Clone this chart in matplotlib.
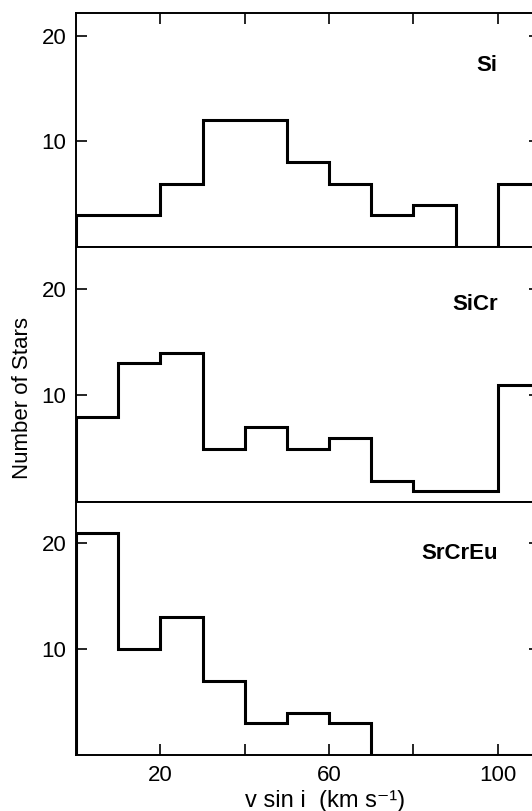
import numpy as np
import matplotlib.pyplot as plt

plt.rcParams['font.family'] = ['Liberation Sans', 'DejaVu Sans']

# v sin i bins (km/s), 10 km/s wide
edges = [0, 10, 20, 30, 40, 50, 60, 70, 80, 90, 100, 110]

# number of stars per bin
si = [3, 3, 6, 12, 12, 8, 6, 3, 4, 0, 6]
sicr = [8, 13, 14, 5, 7, 5, 6, 2, 1, 1, 11]
srcreu = [21, 10, 13, 7, 3, 4, 3, 0, 0, 0, 0]

names = ['Si', 'SiCr', 'SrCrEu']
counts = [si, sicr, srcreu]
ytops = [22.1, 23.9, 23.9]
label_y = [17.2, 18.5, 19.0]

W, H = 532, 811
fig = plt.figure(figsize=(W / 100, H / 100), dpi=100)

left = 76 / W
width = 464 / W
# panel edges in pixels (top, bottom)
panels = [(13.3, 247), (247, 502), (502, 755)]

axes = []
for i, (top, bot) in enumerate(panels):
    ax = fig.add_axes([left, 1 - bot / H, width, (bot - top) / H])
    ax.stairs(counts[i], edges, baseline=0, color='black', linewidth=2.2)
    ax.set_xlim(0, 110)
    ax.set_ylim(0, ytops[i])
    ax.set_yticks([10, 20])
    ax.tick_params(axis='y', direction='in', left=True, right=True,
                   length=8, width=1.2, labelsize=16, pad=7)
    ax.text(100, label_y[i], names[i], ha='right', va='center',
            fontsize=16, fontweight='bold')
    for s in ax.spines.values():
        s.set_linewidth(1.4)
    ax.set_xticks([20, 40, 60, 80, 100])
    axes.append(ax)

# x ticks only on top of first panel and bottom of last one
axes[0].tick_params(axis='x', direction='in', top=True, bottom=False,
                    labeltop=False, labelbottom=False, length=8, width=1.2)
axes[1].tick_params(axis='x', top=False, bottom=False,
                    labeltop=False, labelbottom=False)
axes[2].set_xticks([20, 40, 60, 80, 100], labels=['20', '', '60', '', '100'])
axes[2].tick_params(axis='x', direction='in', top=False, bottom=True,
                    length=8, width=1.2, labelsize=16, pad=7)

fig.text(23 / W, 1 - 398 / H, 'Number of Stars', rotation=90,
         ha='center', va='center', fontsize=16)
fig.text(325 / W, 1 - 801 / H, 'v sin i  (km s\u207b\u00b9)',
         ha='center', va='center', fontsize=17)

plt.savefig('out.png', dpi=100)
